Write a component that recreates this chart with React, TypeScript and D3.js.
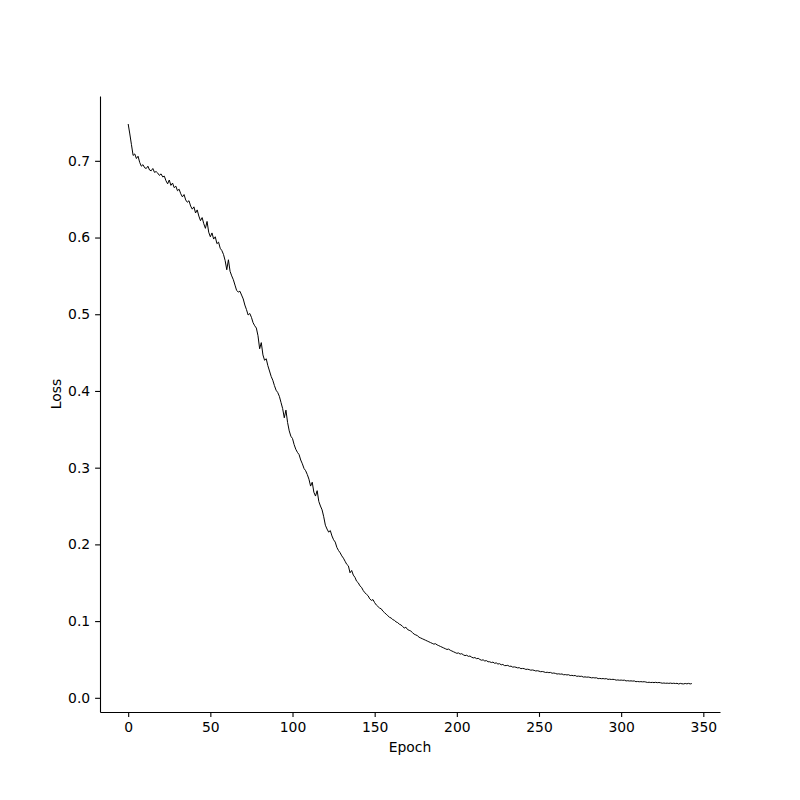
import * as d3 from 'd3';
import { useEffect, useRef } from 'react';

// loss per epoch (epochs 0..343)
const lossValues: number[] = [
  0.748, 0.735, 0.721, 0.707, 0.709, 0.703, 0.706, 0.698, 0.693, 0.695,
  0.691, 0.690, 0.693, 0.688, 0.687, 0.690, 0.685, 0.686, 0.684, 0.681,
  0.683, 0.679, 0.680, 0.674, 0.670, 0.675, 0.668, 0.671, 0.665, 0.667,
  0.661, 0.663, 0.657, 0.653, 0.656, 0.649, 0.646, 0.648, 0.641, 0.637,
  0.640, 0.632, 0.636, 0.628, 0.622, 0.626, 0.618, 0.612, 0.621, 0.607,
  0.601, 0.606, 0.598, 0.601, 0.592, 0.594, 0.586, 0.583, 0.578, 0.570,
  0.558, 0.571, 0.556, 0.550, 0.545, 0.538, 0.531, 0.529, 0.530, 0.525,
  0.520, 0.512, 0.506, 0.499, 0.501, 0.496, 0.489, 0.485, 0.482, 0.472,
  0.455, 0.463, 0.447, 0.440, 0.442, 0.433, 0.426, 0.419, 0.414, 0.407,
  0.401, 0.398, 0.393, 0.385, 0.377, 0.365, 0.375, 0.359, 0.348, 0.341,
  0.338, 0.330, 0.324, 0.320, 0.317, 0.310, 0.305, 0.299, 0.296, 0.291,
  0.285, 0.276, 0.281, 0.268, 0.263, 0.270, 0.256, 0.250, 0.245, 0.236,
  0.225, 0.220, 0.216, 0.218, 0.211, 0.206, 0.203, 0.196, 0.192, 0.189,
  0.185, 0.182, 0.178, 0.174, 0.172, 0.163, 0.166, 0.160, 0.157, 0.152,
  0.150, 0.146, 0.144, 0.140, 0.137, 0.135, 0.133, 0.129, 0.127, 0.128,
  0.124, 0.121, 0.119, 0.117, 0.116, 0.113, 0.111, 0.109, 0.107, 0.105,
  0.104, 0.102, 0.101, 0.099, 0.098, 0.096, 0.095, 0.093, 0.091, 0.092,
  0.089, 0.088, 0.087, 0.085, 0.083, 0.082, 0.081, 0.079, 0.078, 0.077,
  0.076, 0.075, 0.074, 0.073, 0.072, 0.071, 0.070, 0.0705, 0.069, 0.068,
  0.067, 0.066, 0.065, 0.064, 0.063, 0.0635, 0.062, 0.061, 0.060, 0.059,
  0.058, 0.0585, 0.057, 0.0575, 0.056, 0.055, 0.0555, 0.054, 0.0545, 0.053,
  0.052, 0.0525, 0.051, 0.0515, 0.050, 0.049, 0.0495, 0.048, 0.0485, 0.047,
  0.047, 0.046, 0.0465, 0.045, 0.0455, 0.044, 0.0445, 0.043, 0.0435, 0.042,
  0.042, 0.0423, 0.041, 0.0413, 0.040, 0.0403, 0.0398, 0.039, 0.0393, 0.038,
  0.0383, 0.038, 0.037, 0.0373, 0.0368, 0.036, 0.0363, 0.0358, 0.035, 0.0353,
  0.0348, 0.034, 0.0343, 0.0338, 0.033, 0.0333, 0.0328, 0.0331, 0.032, 0.0323,
  0.0318, 0.031, 0.0313, 0.0308, 0.0311, 0.030, 0.0303, 0.0298, 0.0301, 0.029,
  0.0293, 0.0288, 0.0291, 0.028, 0.0283, 0.0279, 0.0281, 0.027, 0.0273, 0.0269,
  0.0271, 0.0266, 0.026, 0.0263, 0.0259, 0.0261, 0.025, 0.0253, 0.0249, 0.0251,
  0.0247, 0.025, 0.024, 0.0243, 0.0239, 0.0241, 0.0238, 0.023, 0.0233, 0.0229,
  0.0231, 0.0228, 0.023, 0.022, 0.0223, 0.0219, 0.0221, 0.0218, 0.022, 0.021,
  0.0213, 0.0209, 0.0211, 0.0208, 0.021, 0.0206, 0.020, 0.0203, 0.0199, 0.0201,
  0.0198, 0.0202, 0.0197, 0.020, 0.0196, 0.019, 0.0193, 0.0189, 0.0191, 0.0188,
  0.0192, 0.0187, 0.019, 0.0186, 0.0189, 0.018, 0.0188, 0.0183, 0.0181, 0.0187,
  0.0182, 0.0188, 0.0181, 0.0186,
];

const xTicks = [0, 50, 100, 150, 200, 250, 300, 350];
const yTicks = [0.0, 0.1, 0.2, 0.3, 0.4, 0.5, 0.6, 0.7];

const App = () => {
  const svgRef = useRef<SVGSVGElement | null>(null);

  useEffect(() => {
    if (!svgRef.current) return;
    document.body.style.margin = '0';

    const width = 800;
    const height = 800;
    const margin = { top: 96, right: 80, bottom: 88, left: 100 };
    const innerWidth = width - margin.left - margin.right;
    const innerHeight = height - margin.top - margin.bottom;
    const font = 'DejaVu Sans, sans-serif';

    const data = lossValues.map((v, i) => ({ epoch: i, loss: v }));

    // matplotlib-like 5% padding
    const xMax = data.length - 1;
    const xPad = xMax * 0.05;
    const [yMin, yMax] = d3.extent(lossValues) as [number, number];
    const yPad = (yMax - yMin) * 0.05;

    const svg = d3.select(svgRef.current)
      .html('')
      .attr('width', width)
      .attr('height', height)
      .style('display', 'block')
      .style('background', '#fff');

    const g = svg.append('g')
      .attr('transform', `translate(${margin.left},${margin.top})`);

    const xScale = d3.scaleLinear()
      .domain([-xPad, xMax + xPad])
      .range([0, innerWidth]);

    const yScale = d3.scaleLinear()
      .domain([yMin - yPad, yMax + yPad])
      .range([innerHeight, 0]);

    const line = d3.line<{ epoch: number; loss: number }>()
      .x(d => xScale(d.epoch))
      .y(d => yScale(d.loss));

    g.append('path')
      .datum(data)
      .attr('fill', 'none')
      .attr('stroke', '#000')
      .attr('stroke-width', 1)
      .attr('stroke-linejoin', 'round')
      .attr('d', line);

    // X-Axis
    const xAxis = g.append('g')
      .attr('transform', `translate(0,${innerHeight})`)
      .call(d3.axisBottom(xScale).tickValues(xTicks).tickFormat(d3.format('d')).tickSize(4.9).tickPadding(4.9).tickSizeOuter(0));
    xAxis.select('.domain').attr('stroke-width', 1.1);

    // Y-Axis
    const yAxis = g.append('g')
      .call(d3.axisLeft(yScale).tickValues(yTicks).tickFormat(d3.format('.1f')).tickSize(4.9).tickPadding(4.9).tickSizeOuter(0));
    yAxis.select('.domain').attr('stroke-width', 1.1);

    [xAxis, yAxis].forEach(ax => {
      ax.selectAll('.tick line').attr('stroke-width', 1.1);
      ax.selectAll('text')
        .attr('fill', '#000')
        .style('font-family', font)
        .style('font-size', '13.9px');
    });

    // X-Axis Label
    g.append('text')
      .attr('x', innerWidth / 2)
      .attr('y', innerHeight + 40)
      .attr('fill', '#000')
      .attr('text-anchor', 'middle')
      .style('font-family', font)
      .style('font-size', '13.9px')
      .text('Epoch');

    // Y-Axis Label
    g.append('text')
      .attr('transform', 'rotate(-90)')
      .attr('x', -(yScale(0.4) + 3))
      .attr('y', -39)
      .attr('fill', '#000')
      .attr('text-anchor', 'middle')
      .style('font-family', font)
      .style('font-size', '13.9px')
      .text('Loss');
  }, []);

  return <svg ref={svgRef} />;
};

export default App;
